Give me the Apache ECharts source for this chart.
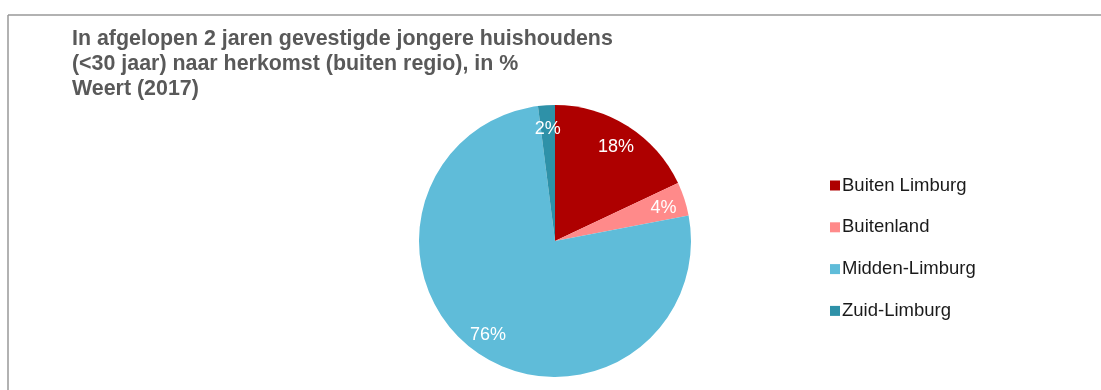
<!DOCTYPE html>
<html>
<head>
<meta charset="utf-8">
<script src="https://cdn.jsdelivr.net/npm/echarts@6/dist/echarts.min.js"></script>
<style>
  body { margin: 0; background: #fff; }
  #pieChart { width: 1101px; height: 390px; }
</style>
</head>
<body>
<div id="pieChart"></div>
<script>
// herkomst categories and percentages
const categories = ['Buiten Limburg', 'Buitenland', 'Midden-Limburg', 'Zuid-Limburg'];
const values = [18, 4, 76, 2];
const colors = ['#ae0000', '#ff8a8a', '#5fbcd9', '#2e91a8'];

const myChart = echarts.init(document.getElementById('pieChart'));

const pieData = categories.map((name, i) => ({
  name: name,
  value: values[i],
  itemStyle: { color: colors[i] }
}));

myChart.setOption({
  animation: false,
  title: {
    text: 'In afgelopen 2 jaren gevestigde jongere huishoudens\n(<30 jaar) naar herkomst (buiten regio), in %\nWeert (2017)',
    left: 72,
    top: 27,
    padding: 0,
    textStyle: {
      fontFamily: 'Liberation Sans, Arial, sans-serif',
      fontSize: 21.4,
      fontWeight: 'bold',
      color: '#595959',
      lineHeight: 25
    }
  },
  legend: {
    orient: 'vertical',
    left: 830,
    top: 176,
    padding: 0,
    icon: 'rect',
    itemWidth: 10,
    itemHeight: 10,
    itemGap: 22.8,
    textStyle: {
      fontFamily: 'Liberation Sans, Arial, sans-serif',
      fontSize: 18.5,
      color: '#1a1a1a',
      padding: [0, 0, 0, -3]
    },
    data: categories
  },
  graphic: [
    { type: 'line', shape: { x1: 8, y1: 15, x2: 1101, y2: 15 }, style: { stroke: '#999', lineWidth: 1.5 } },
    { type: 'line', shape: { x1: 8, y1: 15, x2: 8, y2: 390 }, style: { stroke: '#999', lineWidth: 1.5 } }
  ],
  series: [
    {
      type: 'pie',
      center: [555, 241],
      radius: [0, 136],
      startAngle: 90,
      label: { show: false },
      labelLine: { show: false },
      emphasis: { disabled: true },
      data: pieData
    },
    {
      // transparent ring only to place the labels near the rim
      type: 'pie',
      center: [555, 243],
      radius: [86, 136],
      startAngle: 90,
      silent: true,
      itemStyle: { color: 'transparent' },
      label: {
        show: true,
        position: 'inside',
        formatter: '{c}%',
        color: '#fff',
        fontFamily: 'Liberation Sans, Arial, sans-serif',
        fontSize: 18
      },
      labelLine: { show: false },
      data: categories.map((name, i) => ({ name: name, value: values[i], itemStyle: { color: 'transparent' } }))
    }
  ]
});
</script>
</body>
</html>
